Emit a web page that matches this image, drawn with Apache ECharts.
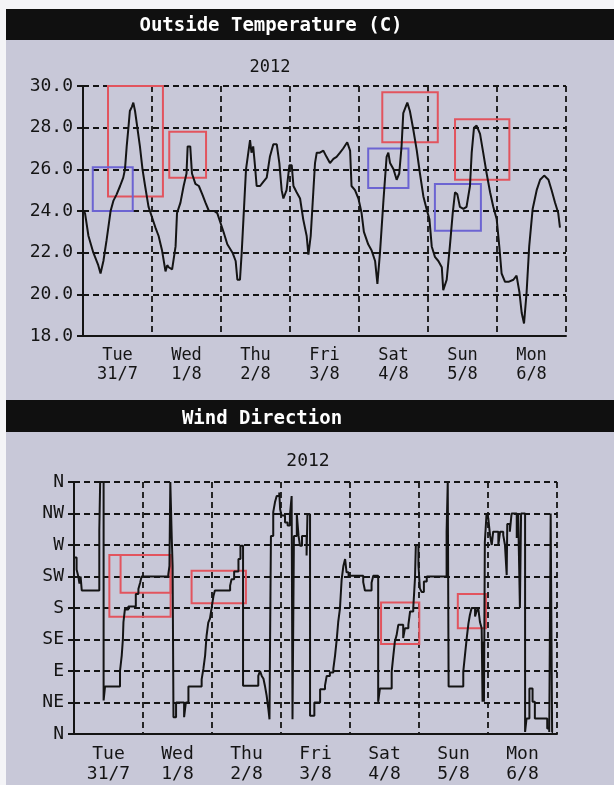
<!DOCTYPE html>
<html><head><meta charset="utf-8">
<script src="https://cdn.jsdelivr.net/npm/echarts@6/dist/echarts.min.js"></script>
<style>html,body{margin:0;padding:0;background:#f4f4f7}#c{width:614px;height:785px}</style>
</head><body><div id="c"></div>
<script>
// ---- data ----
const days = ['Tue\n31/7','Wed\n1/8','Thu\n2/8','Fri\n3/8','Sat\n4/8','Sun\n5/8','Mon\n6/8'];
const windLabels = ['N','NE','E','SE','S','SW','W','NW','N'];
const yearLabel = '2012';
// [hours since Tue 31/7 00:00, temperature C]
const tempSeries = [[0.0,24.0],[0.7,23.9],[1.9,22.8],[3.6,22.0],[5.3,21.4],[6.1,21.0],[7.1,21.6],[8.2,22.6],[9.2,23.6],[9.6,24.0],[10.6,24.5],[11.7,24.8],[12.9,25.2],[14.0,25.6],[14.6,26.0],[15.2,27.1],[15.8,28.0],[16.3,28.8],[17.0,29.0],[17.5,29.2],[18.1,28.8],[18.9,28.0],[19.8,27.1],[20.7,26.0],[21.6,25.2],[22.8,24.2],[24.0,23.7],[25.2,23.2],[26.3,22.8],[27.5,22.1],[28.7,21.1],[29.3,21.4],[29.8,21.3],[31.0,21.2],[32.2,22.3],[32.7,23.9],[33.9,24.4],[35.0,25.2],[36.0,25.8],[36.4,27.1],[37.3,27.1],[37.9,25.8],[39.1,25.3],[40.3,25.2],[41.5,24.8],[42.6,24.4],[43.8,24.0],[45.6,24.0],[46.7,23.9],[47.9,23.4],[49.1,22.9],[50.2,22.4],[52.0,22.0],[53.1,21.6],[53.7,20.7],[54.6,20.7],[55.2,22.0],[55.8,23.6],[56.7,26.0],[57.5,26.8],[58.1,27.4],[58.6,26.8],[59.2,27.1],[59.8,26.2],[60.4,25.2],[61.6,25.2],[62.7,25.4],[63.9,25.6],[65.0,26.6],[66.2,27.2],[67.4,27.2],[68.3,26.3],[69.1,25.0],[69.7,24.6],[70.8,25.0],[71.8,26.2],[72.6,26.2],[73.2,25.2],[74.3,24.9],[75.5,24.6],[76.6,23.6],[77.8,22.8],[78.4,21.9],[79.2,22.8],[80.1,24.9],[80.7,26.3],[81.3,26.8],[82.4,26.8],[83.6,26.9],[84.7,26.6],[85.9,26.3],[87.1,26.5],[88.2,26.6],[89.4,26.8],[90.5,27.0],[91.9,27.3],[92.9,26.9],[93.4,25.2],[94.6,25.0],[95.8,24.6],[96.9,23.9],[97.7,23.0],[99.2,22.4],[100.4,22.1],[101.6,21.6],[102.4,20.5],[103.3,22.0],[104.5,24.5],[105.6,26.6],[106.2,26.8],[106.8,26.3],[108.0,26.0],[109.1,25.5],[110.0,25.8],[110.8,27.1],[111.4,28.7],[112.8,29.2],[113.7,28.8],[114.9,27.9],[116.1,26.9],[117.2,25.8],[118.4,24.7],[119.5,24.1],[120.5,23.6],[121.3,22.3],[122.4,21.8],[123.6,21.6],[124.8,21.3],[125.3,20.2],[126.5,20.7],[127.6,22.3],[128.6,23.9],[129.4,24.9],[130.2,24.8],[131.1,24.2],[132.3,24.1],[133.4,24.2],[134.6,25.2],[135.2,26.8],[136.0,28.0],[136.9,28.1],[138.1,27.7],[139.2,26.8],[140.4,25.8],[141.6,24.9],[142.7,24.2],[143.9,23.6],[144.8,22.3],[145.6,21.0],[146.8,20.6],[148.0,20.6],[149.7,20.7],[150.8,20.9],[151.8,20.1],[152.6,19.1],[153.4,18.6],[154.3,20.1],[155.2,22.3],[156.4,24.1],[157.8,25.0],[159.0,25.5],[160.4,25.7],[161.9,25.5],[163.0,25.0],[164.2,24.4],[165.3,23.9],[165.9,23.2]];
// [hours, wind direction degrees] value held until next point
const windSeries = [[0.0,252],[0.9,235],[1.5,225],[1.9,215],[2.3,225],[2.7,205],[8.8,290],[9.1,360],[10.3,48],[10.8,68],[16.0,90],[16.6,112],[17.0,135],[17.2,160],[17.7,178],[18.9,182],[21.5,200],[22.4,207],[23.0,216],[23.5,225],[32.8,228],[33.2,240],[33.5,360],[34.0,280],[34.3,240],[34.6,24],[35.5,45],[37.5,45],[38.3,24],[38.9,45],[39.8,68],[44.4,78],[45.0,93],[45.6,112],[46.1,140],[46.7,159],[47.3,165],[47.9,181],[48.5,197],[49.0,205],[54.3,212],[54.8,221],[55.7,232],[57.2,250],[57.9,269],[58.8,69],[64.1,83],[64.7,90],[65.3,83],[65.9,79],[66.4,69],[67.0,55],[67.6,36],[68.0,21],[68.2,136],[68.5,283],[69.3,317],[69.9,331],[70.5,340],[71.4,345],[71.7,321],[72.2,312],[73.4,302],[74.3,298],[75.1,312],[75.7,340],[76.0,21],[76.5,283],[77.5,314],[78.1,283],[78.6,269],[79.3,283],[80.9,255],[81.2,314],[82.1,26],[83.6,45],[85.6,64],[87.3,69],[87.9,83],[89.0,88],[90.2,93],[90.8,112],[91.4,136],[91.9,160],[92.5,179],[93.1,221],[93.7,240],[94.3,250],[94.8,231],[95.5,226],[100.6,217],[101.2,205],[103.5,216],[104.1,226],[105.8,46],[106.4,65],[110.5,89],[111.1,113],[111.6,132],[112.2,141],[112.8,156],[114.5,137],[115.1,151],[116.3,156],[116.9,175],[118.0,180],[118.6,222],[118.9,270],[119.8,241],[120.3,208],[120.9,203],[121.7,218],[122.7,225],[129.6,289],[130.0,360],[130.3,68],[135.4,89],[136.0,113],[136.6,137],[137.2,158],[137.7,170],[138.3,180],[139.5,168],[140.0,175],[140.6,180],[141.2,160],[141.8,151],[142.1,46],[142.4,132],[142.6,46],[142.9,274],[143.5,315],[144.1,308],[144.7,284],[145.3,270],[145.8,289],[147.6,270],[148.2,289],[149.3,284],[149.9,270],[150.5,227],[150.7,300],[151.6,289],[152.2,315],[154.0,280],[154.5,315],[155.1,180],[155.5,315],[156.9,3],[157.4,22],[158.4,65],[159.5,46],[160.3,22],[164.6,8],[165.3,3],[165.8,315],[166.3,3],[166.6,3]];
// highlight boxes [h1, h2, v1, v2]
const tempRedBoxes = [[8.7,27.8,24.7,30.0],[30.0,42.8,25.6,27.8],[104.1,123.4,27.3,29.7],[129.4,148.3,25.5,28.4]];
const tempBlueBoxes = [[3.4,17.3,24.0,26.1],[99.2,113.2,25.1,27.0],[122.4,138.4,23.05,25.3]];
const windRedBoxes = [[12.3,33.6,167.6,255.7],[16.2,33.6,201.9,255.7],[40.9,59.8,186.7,233.3],[106.8,120.1,128.6,188],[133.5,143.3,151,200]];

// ---- chart ----
const FONT = 'DejaVu Sans Mono';
const INK = '#141414';
const RED = '#e2545e', BLUE = '#6c64d2';
const gridLine = {show:true, lineStyle:{color:INK, type:[6,4], width:1.8}};
function boxes(list, color){
  return list.map(b => [{coord:[b[0], b[2]], itemStyle:{color:'rgba(0,0,0,0)', borderColor:color, borderWidth:2}}, {coord:[b[1], b[3]]}]);
}
function catAxis(gi, fs){
  return {type:'category', gridIndex:gi, data:days, position:'bottom', boundaryGap:true,
    axisLine:{lineStyle:{color:INK, width:2}},
    axisTick:{length:9, lineStyle:{color:INK, width:2}},
    axisLabel:{fontFamily:FONT, fontSize:fs, color:INK, lineHeight:fs+2, margin:10},
    splitLine:gridLine};
}
const chart = echarts.init(document.getElementById('c'), null, {renderer:'canvas'});
chart.setOption({
  animation:false,
  backgroundColor:'#c8c8d8',
  graphic:[
    {type:'rect', shape:{x:0,y:0,width:614,height:9}, style:{fill:'#f4f4f7'}},
    {type:'rect', shape:{x:0,y:0,width:6,height:785}, style:{fill:'#f4f4f7'}},
    {type:'rect', shape:{x:6,y:9,width:608,height:31}, style:{fill:'#101010'}},
    {type:'rect', shape:{x:6,y:400,width:608,height:32}, style:{fill:'#101010'}},
    {type:'text', x:271, y:26, style:{text:'Outside Temperature (C)', fill:'#fff', font:'bold 19px "DejaVu Sans Mono"', align:'center', verticalAlign:'middle'}},
    {type:'text', x:262, y:419, style:{text:'Wind Direction', fill:'#fff', font:'bold 19px "DejaVu Sans Mono"', align:'center', verticalAlign:'middle'}},
    {type:'text', x:270, y:68, style:{text:yearLabel, fill:INK, font:'17px "DejaVu Sans Mono"', align:'center', verticalAlign:'middle'}},
    {type:'text', x:308, y:461, style:{text:yearLabel, fill:INK, font:'18px "DejaVu Sans Mono"', align:'center', verticalAlign:'middle'}}
  ],
  grid:[
    {left:83, top:86, width:483, height:250},
    {left:74, top:482, width:483, height:252}
  ],
  xAxis:[
    {type:'value', gridIndex:0, min:0, max:168, interval:24, show:false},
    catAxis(0, 17),
    {type:'value', gridIndex:1, min:0, max:168, interval:24, show:false},
    catAxis(1, 18)
  ],
  yAxis:[
    {type:'value', gridIndex:0, min:18, max:30, interval:2,
     axisLine:{show:true, lineStyle:{color:INK, width:2}},
     axisTick:{show:true, length:6, lineStyle:{color:INK, width:2}},
     axisLabel:{fontFamily:FONT, fontSize:18, color:INK, margin:10, formatter:v=>v.toFixed(1)},
     splitLine:gridLine},
    {type:'value', gridIndex:1, min:0, max:360, interval:45,
     axisLine:{show:true, lineStyle:{color:INK, width:2}},
     axisTick:{show:true, length:6, lineStyle:{color:INK, width:2}},
     axisLabel:{fontFamily:FONT, fontSize:18, color:INK, margin:10, formatter:v=>windLabels[Math.round(v/45)]},
     splitLine:gridLine}
  ],
  series:[
    {type:'line', xAxisIndex:0, yAxisIndex:0, data:tempSeries, showSymbol:false, silent:true,
     lineStyle:{color:INK, width:2},
     markArea:{silent:true, data:boxes(tempRedBoxes, RED).concat(boxes(tempBlueBoxes, BLUE))}},
    {type:'line', xAxisIndex:2, yAxisIndex:1, data:windSeries, step:'end', showSymbol:false, silent:true,
     lineStyle:{color:INK, width:2},
     markArea:{silent:true, data:boxes(windRedBoxes, RED)}}
  ]
});
</script></body></html>
